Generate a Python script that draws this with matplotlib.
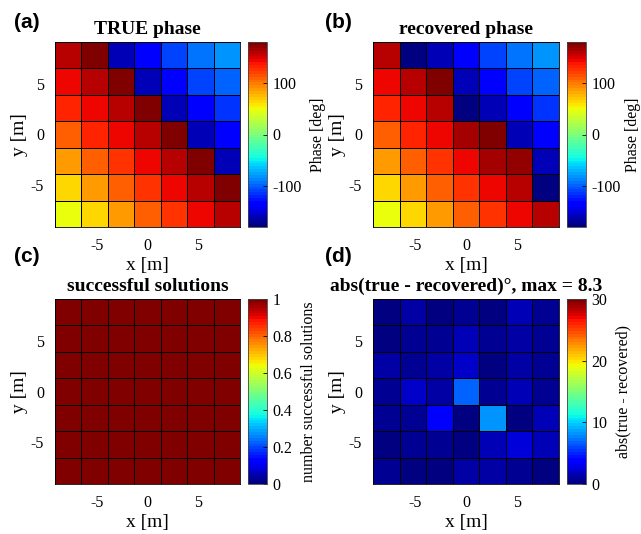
import numpy as np
import matplotlib.pyplot as plt
from matplotlib.ticker import FormatStrFormatter

plt.rcParams['font.family'] = ['Liberation Serif', 'DejaVu Serif']
plt.rcParams['axes.unicode_minus'] = False

# grid cell centres [m]; rows are listed from top (y = 7.8) to bottom
x_m = [-7.8, -5.2, -2.6, 0.0, 2.6, 5.2, 7.8]
y_m = [7.8, 5.2, 2.6, 0.0, -2.6, -5.2, -7.8]

true_phase = [
    [160, 178, -160, -138, -112, -95, -79],
    [146, 160, 178, -160, -138, -112, -97],
    [133, 146, 160, 178, -160, -138, -117],
    [109, 133, 146, 160, 178, -160, -138],
    [85, 109, 128, 146, 160, 178, -160],
    [67, 87, 109, 128, 146, 160, 178],
    [50, 67, 87, 109, 128, 146, 160],
]

recovered_phase = [
    [160, -180, -160, -138, -112, -95, -79],
    [146, 160, 178, -160, -138, -112, -97],
    [133, 146, 160, -178, -160, -138, -117],
    [109, 133, 146, 166, 178, -160, -138],
    [87, 109, 128, 146, 168, 174, -160],
    [67, 87, 109, 128, 146, 162, -178],
    [50, 67, 87, 109, 128, 146, 160],
]

n_success = [
    [1, 1, 1, 1, 1, 1, 1],
    [1, 1, 1, 1, 1, 1, 1],
    [1, 1, 1, 1, 1, 1, 1],
    [1, 1, 1, 1, 1, 1, 1],
    [1, 1, 1, 1, 1, 1, 1],
    [1, 1, 1, 1, 1, 1, 1],
    [1, 1, 1, 1, 1, 1, 1],
]

abs_diff = [
    [0.3, 1.3, 0.3, 0.7, 0.3, 1.45, 0.5],
    [0.0, 0.5, 0.8, 1.45, 0.5, 1.0, 0.7],
    [1.0, 0.8, 1.0, 2.0, 0.3, 1.2, 0.7],
    [0.8, 2.3, 1.0, 6.8, 0.8, 1.65, 0.5],
    [0.7, 0.5, 3.5, 0.0, 8.3, 0.3, 1.85],
    [0.0, 0.5, 0.8, 0.0, 1.85, 2.6, 1.45],
    [0.8, 0.0, 0.3, 1.2, 1.2, 0.8, 0.0],
]

W, H = 641, 534
fig = plt.figure(figsize=(W / 100, H / 100), dpi=100)
jet = plt.get_cmap('jet', 64)


def px(x0, y0, w, h):
    # pixel box (top-left origin) -> figure fraction rect
    return [x0 / W, 1 - (y0 + h) / H, w / W, h / H]


def panel(box, cbox, data, vmin, vmax, title, clabel, cticks, letter, lxy,
          cpad=6):
    ax = fig.add_axes(px(*box))
    cax = fig.add_axes(px(*cbox))
    mesh = ax.pcolormesh(x_m, y_m, np.array(data, dtype=float), cmap=jet,
                         vmin=vmin, vmax=vmax, shading='nearest',
                         edgecolors='k', linewidth=0.6)
    ax.set_xlim(-9.1, 9.1)
    ax.set_ylim(-9.1, 9.1)
    ax.set_xticks([-5, 0, 5])
    ax.set_yticks([-5, 0, 5])
    ax.tick_params(direction='in', length=0, labelsize=11.5, pad=8)
    ax.set_xlabel('x [m]', fontsize=14, labelpad=2)
    ax.set_ylabel('y [m]', fontsize=14, labelpad=2)
    ax.set_title(title, fontsize=14, fontweight='bold', pad=6)
    for s in ax.spines.values():
        s.set_linewidth(0.6)

    cb = fig.colorbar(mesh, cax=cax, ticks=cticks,
                      format=FormatStrFormatter('%g'))
    cb.outline.set_linewidth(0.6)
    cb.outline.set_edgecolor('#444444')
    cb.ax.tick_params(labelsize=11.5, direction='in', length=3, width=0.6,
                      pad=4)
    cb.set_label(clabel, fontsize=11.5, labelpad=cpad)

    fig.text(lxy[0] / W, 1 - lxy[1] / H, letter, fontsize=15,
             fontweight='bold', family='Liberation Sans', va='center')
    return ax


panel((55, 42, 185, 185), (248, 42, 19, 185), true_phase, -180, 180,
      'TRUE phase', 'Phase [deg]', [-100, 0, 100], '(a)', (14, 22))
panel((373, 42, 186, 185), (567, 42, 19, 185), recovered_phase, -180, 180,
      'recovered phase', 'Phase [deg]', [-100, 0, 100], '(b)', (325, 22),
      cpad=3)
panel((55, 299, 185, 185), (248, 299, 19, 185), n_success, 0, 1,
      'successful solutions', 'number successful solutions',
      [0, 0.2, 0.4, 0.6, 0.8, 1], '(c)', (14, 257))
panel((373, 299, 186, 185), (567, 299, 19, 185), abs_diff, 0, 30,
      'abs(true - recovered)\u00b0, max = %.1f' % np.max(abs_diff),
      'abs(true - recovered)', [0, 10, 20, 30], '(d)', (325, 257))

fig.savefig('out.png', dpi=100)
